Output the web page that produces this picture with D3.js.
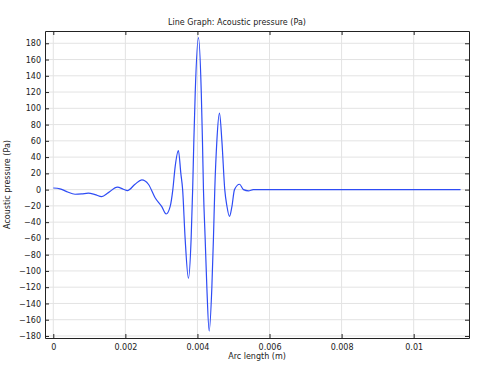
<!DOCTYPE html>
<html>
<head>
<meta charset="utf-8">
<script src="https://cdn.jsdelivr.net/npm/d3@7"></script>
<style>
  body { margin: 0; background: #fff; }
  text { font-family: "DejaVu Sans", sans-serif; }
</style>
</head>
<body>
<div id="graph"></div>
<script>
// arc length (m) and acoustic pressure (Pa)
const arcLength = [
  0, 0.000186, 0.000372, 0.000603, 0.000789, 0.000972, 0.001158, 0.001344,
  0.001528, 0.001778, 0.001944, 0.002056, 0.002269, 0.002456, 0.002639,
  0.002825, 0.003011, 0.003131, 0.003242, 0.003317, 0.003381, 0.003472,
  0.003539, 0.003589, 0.003658, 0.00375, 0.003825, 0.003867, 0.003900,
  0.003939, 0.004028, 0.004106, 0.004139, 0.004167, 0.004214, 0.004261,
  0.004325, 0.0044, 0.004444, 0.004481, 0.004539, 0.004611, 0.004678,
  0.004758, 0.004817, 0.004889, 0.004956, 0.005028, 0.005167, 0.005278,
  0.005417, 0.005547, 0.006, 0.007, 0.008, 0.009, 0.01, 0.0113
];
const pressure = [
  2, 1, -2.4, -5.7, -5.3, -4.4, -6.1, -8.6,
  -3.7, 3, 0.5, -1.2, 6.6, 12, 6.6,
  -10, -21, -30, -21, 0, 28, 48,
  20, 0, -60, -109, -60, 0, 60,
  120, 187, 120, 60, 0, -60, -120,
  -174, -120, -60, 0, 60, 94, 60,
  0, -20, -33, -21, 0, 6.6, 0,
  -1.5, 0, 0, 0, 0, 0, 0, 0
];
const xTicks = [0, 0.002, 0.004, 0.006, 0.008, 0.01];
const xTickLabels = ["0", "0.002", "0.004", "0.006", "0.008", "0.01"];
const yTicks = d3.range(-180, 181, 20);

const width = 481, height = 365;
const margin = {top: 31, right: 12, bottom: 27, left: 45};
const plotW = width - margin.left - margin.right;
const plotH = height - margin.top - margin.bottom;

const svg = d3.select("#graph").append("svg")
    .attr("width", width)
    .attr("height", height);

const g = svg.append("g")
    .attr("transform", `translate(${margin.left}, ${margin.top})`);

const x = d3.scaleLinear().domain([-0.00023, 0.011535]).range([0, plotW]);
const y = d3.scaleLinear().domain([-182.5, 195.1]).range([plotH, 0]);

// grid
g.append("g").selectAll("line").data(xTicks).enter().append("line")
    .attr("x1", d => x(d)).attr("x2", d => x(d))
    .attr("y1", 0).attr("y2", plotH)
    .attr("stroke", "#e3e3e3").attr("stroke-width", 1);
g.append("g").selectAll("line").data(yTicks).enter().append("line")
    .attr("x1", 0).attr("x2", plotW)
    .attr("y1", d => y(d)).attr("y2", d => y(d))
    .attr("stroke", "#e3e3e3").attr("stroke-width", 1);

// curve
const data = arcLength.map((d, i) => [d, pressure[i]]);
g.append("path")
    .datum(data)
    .attr("fill", "none")
    .attr("stroke", "#2e4cf5")
    .attr("stroke-width", 1.2)
    .attr("d", d3.line().x(d => x(d[0])).y(d => y(d[1])).curve(d3.curveMonotoneX));

// axes, ticks pointing inward
g.append("g")
    .attr("transform", `translate(0, ${plotH})`)
    .call(d3.axisBottom(x).tickValues(xTicks).tickFormat((d, i) => xTickLabels[i]).tickSizeInner(-4).tickSizeOuter(0).tickPadding(6));
g.append("g")
    .call(d3.axisLeft(y).tickValues(yTicks).tickSizeInner(-4).tickSizeOuter(0).tickPadding(4));
g.append("g")
    .call(d3.axisTop(x).tickValues(xTicks).tickFormat("").tickSizeInner(-4).tickSizeOuter(0));
g.append("g")
    .attr("transform", `translate(${plotW}, 0)`)
    .call(d3.axisRight(y).tickValues(yTicks).tickFormat("").tickSizeInner(-4).tickSizeOuter(0));

g.selectAll(".domain").attr("stroke", "#222");
g.selectAll(".tick line").attr("stroke", "#222");
g.selectAll(".tick text")
    .style("font-family", "DejaVu Sans, sans-serif")
    .style("font-size", "8px")
    .attr("fill", "#222");

// titles
svg.append("text")
    .attr("x", 237)
    .attr("y", 25)
    .attr("text-anchor", "middle")
    .style("font-size", "8px")
    .attr("fill", "#222")
    .text("Line Graph: Acoustic pressure (Pa)");

svg.append("text")
    .attr("x", margin.left + plotW / 2)
    .attr("y", 359)
    .attr("text-anchor", "middle")
    .style("font-size", "8px")
    .attr("fill", "#222")
    .text("Arc length (m)");

svg.append("text")
    .attr("transform", `translate(10, ${margin.top + plotH / 2}) rotate(-90)`)
    .attr("text-anchor", "middle")
    .style("font-size", "8px")
    .attr("fill", "#222")
    .text("Acoustic pressure (Pa)");
</script>
</body>
</html>
